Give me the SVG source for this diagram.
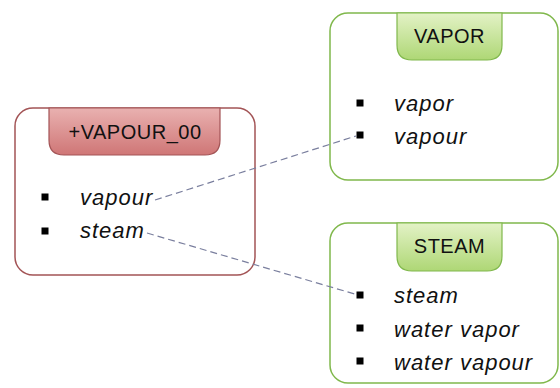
<svg xmlns="http://www.w3.org/2000/svg" width="560" height="388" viewBox="0 0 560 388">
<defs>
<linearGradient id="gRed" x1="0" y1="0" x2="0" y2="1"><stop offset="0" stop-color="#e9b1b0"/><stop offset="1" stop-color="#cf7676"/></linearGradient>
<linearGradient id="gGreen" x1="0" y1="0" x2="0" y2="1"><stop offset="0" stop-color="#e3f2c6"/><stop offset="1" stop-color="#aed775"/></linearGradient>
</defs>
<style>
.box{fill:#fff;stroke-width:1.5}
.red{stroke:#a35456}
.green{stroke:#80b84c}
.hdr{font-family:"Liberation Sans",Arial,sans-serif;font-size:20px;fill:#111;text-anchor:middle;letter-spacing:0.5px}
.item{font-family:"Liberation Sans",Arial,sans-serif;font-size:22px;font-style:italic;fill:#111;letter-spacing:1px}
.bul{fill:#000}
.conn{stroke:#7a7f9e;stroke-width:1.2;stroke-dasharray:7 4;fill:none}
</style>
<g id="vapour00">
<rect class="box red" x="15" y="108" width="240" height="167" rx="18"/>
<path d="M49,108 H220 V140 Q220,155 205,155 H64 Q49,155 49,140 Z" fill="url(#gRed)" stroke="#a35456" stroke-width="1.2"/>
<text class="hdr" x="135" y="139">+VAPOUR_00</text>
<rect class="bul" x="41.5" y="193.5" width="7" height="7"/>
<rect class="bul" x="41.5" y="227.5" width="7" height="7"/>
<text class="item" x="80" y="205">vapour</text>
<text class="item" x="80" y="238">steam</text>
</g>
<g id="vapor">
<rect class="box green" x="330" y="13" width="228" height="167" rx="18"/>
<path d="M397,13 H502 V45 Q502,60 487,60 H412 Q397,60 397,45 Z" fill="url(#gGreen)" stroke="#80b84c" stroke-width="1.2"/>
<text class="hdr" x="449.5" y="43">VAPOR</text>
<rect class="bul" x="356.5" y="99.5" width="7" height="7"/>
<rect class="bul" x="356.5" y="131.5" width="7" height="7"/>
<text class="item" x="394" y="111">vapor</text>
<text class="item" x="394" y="144">vapour</text>
</g>
<g id="steam">
<rect class="box green" x="330" y="223" width="228" height="160" rx="18"/>
<path d="M397,223 H502 V256 Q502,271 487,271 H412 Q397,271 397,256 Z" fill="url(#gGreen)" stroke="#80b84c" stroke-width="1.2"/>
<text class="hdr" x="449.5" y="253">STEAM</text>
<rect class="bul" x="356.5" y="291.5" width="7" height="7"/>
<rect class="bul" x="356.5" y="324.5" width="7" height="7"/>
<rect class="bul" x="356.5" y="357.5" width="7" height="7"/>
<text class="item" x="394" y="303">steam</text>
<text class="item" x="394" y="337">water vapor</text>
<text class="item" x="394" y="370">water vapour</text>
</g>
<g id="connectors">
<line class="conn" x1="155" y1="200" x2="356" y2="136"/>
<line class="conn" x1="147" y1="233" x2="358" y2="295"/>
</g>
</svg>
